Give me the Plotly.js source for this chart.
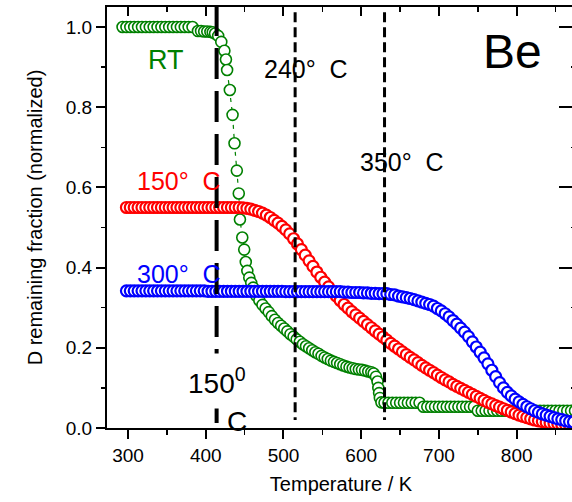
<!DOCTYPE html>
<html>
<head>
<meta charset="utf-8">
<script src="https://cdn.plot.ly/plotly-3.0.1.min.js"></script>
<style>
html, body { margin:0; padding:0; overflow:hidden; background:#fff; }
#chart { width:580px; height:502px; }
</style>
</head>
<body>
<div id="chart"></div>
<script>
// ---- Data ----
const temps = [298,303,308,313,318,323,328,333,338,343,348,353,358,363,368,373,378,383,388,393,
398,403,408,413,418,423,428,433,438,443,448,453,458,463,468,473,478,483,488,493,
498,503,508,513,518,523,528,533,538,543,548,553,558,563,568,573,578,583,588,593,
598,603,608,613,618,623,628,633,638,643,648,653,658,663,668,673,678,683,688,693,
698,703,708,713,718,723,728,733,738,743,748,753,758,763,768,773,778,783,788,793,
798,803,808,813,818,823,828,833,838,843,848,853,858,863,868,873];

const d150 = [0.550,0.550,0.550,0.550,0.550,0.550,0.550,0.550,0.550,0.550,
0.550,0.550,0.550,0.550,0.550,0.550,0.550,0.550,0.550,0.550,
0.550,0.550,0.550,0.550,0.550,0.550,0.550,0.550,0.550,
0.550,0.549,0.548,0.546,0.543,0.540,0.536,0.531,0.525,0.518,0.511,
0.503,0.494,0.484,0.472,0.459,0.445,0.431,0.417,0.403,0.389,
0.376,0.364,0.352,0.340,0.329,0.318,0.308,0.299,0.290,0.282,
0.274,0.266,0.258,0.250,0.242,0.234,0.227,0.219,0.211,0.204,
0.197,0.190,0.183,0.176,0.170,0.163,0.156,0.150,0.144,0.138,
0.132,0.126,0.120,0.115,0.109,0.104,0.099,0.094,0.089,0.084,
0.079,0.074,0.069,0.064,0.060,0.056,0.052,0.048,0.044,0.040,
0.036,0.032,0.029,0.026,0.023,0.020,0.018,0.016,0.014,0.012,
0.011,0.010,0.009,0.008,0.007,0.006];

const d300 = [0.342,0.342,0.342,0.342,0.342,0.342,0.342,0.342,0.342,0.342,
0.342,0.342,0.342,0.342,0.342,0.342,0.342,0.342,0.342,0.342,0.342,
0.341,0.341,0.341,0.341,0.341,0.341,0.341,0.341,0.341,0.341,
0.341,0.341,0.341,0.341,0.341,0.341,0.341,0.341,0.341,0.341,
0.340,0.340,0.340,0.340,0.340,0.340,0.340,0.340,0.340,0.340,
0.340,0.340,0.340,0.340,0.340,
0.339,0.339,0.338,0.338,0.338,0.337,
0.337,0.336,0.336,0.335,0.335,0.335,
0.333,0.332,0.329,0.327,0.325,0.323,0.320,0.317,0.314,0.311,
0.308,0.304,0.298,0.292,0.285,0.277,0.268,0.259,0.249,0.239,
0.228,0.215,0.202,0.189,0.175,0.160,0.144,0.128,0.113,0.100,
0.089,0.080,0.072,0.065,0.059,0.053,0.048,0.043,0.039,0.035,
0.032,0.029,0.026,0.023,0.021,0.018,0.016,0.015];

const tRT = [293,298,303,308,313,318,323,328,333,338,343,348,353,358,363,368,373,378,383,
390,394,398,402,406,409,
412,416,420,424,426,427.5,431,434.5,437,440,442.5,444,447,449.5,451.5,453.5,456,458.5,
461,465,469,473,477,481,485,489,493,497,501,505,509,513,517,521,525,529,533,537,
541,545,549,553,557,561,565,569,573,577,581,585,589,593,597,601,605,609,613,616,
619,621,622,623,624,626,
630,635,640,645,650,655,660,665,670,675,
680,685,690,695,700,705,710,715,720,725,730,735,740,745,
750,755,760,765,770,775,780,785,790,795,800,805,810,815,820,825,830,835,840,845,
850,855,860,865,870,875];

const dRT = [1.000,1.000,1.000,1.000,1.000,1.000,1.000,1.000,1.000,1.000,1.000,1.000,1.000,1.000,1.000,1.000,1.000,1.000,1.000,
0.990,0.990,0.989,0.989,0.988,0.987,
0.984,0.978,0.963,0.941,0.919,0.893,0.843,0.781,0.710,0.642,0.585,0.520,0.475,0.445,0.414,0.392,0.375,0.362,
0.350,0.330,0.318,0.307,0.298,0.289,0.279,0.270,0.262,0.255,0.248,0.241,0.234,0.228,0.221,0.215,0.209,0.204,0.199,0.194,
0.189,0.185,0.180,0.176,0.172,0.168,0.165,0.162,0.159,0.156,0.153,0.151,0.149,0.147,0.146,0.145,0.143,0.141,0.139,0.136,
0.128,0.116,0.100,0.087,0.075,0.064,
0.063,0.063,0.063,0.063,0.063,0.063,0.063,0.063,0.063,0.063,
0.053,0.053,0.053,0.053,0.053,0.053,0.053,0.053,0.053,0.053,0.053,0.053,0.053,0.053,
0.043,0.043,0.043,0.043,0.043,0.043,0.043,0.043,0.043,0.043,0.043,0.043,0.043,0.043,0.043,0.043,0.043,0.043,0.043,0.043,
0.043,0.043,0.043,0.043,0.043,0.043];

const markerTemps = [414, 515, 630];   // vertical reference lines (K)
const xTickVals = [300, 400, 500, 600, 700, 800];

// ---- Styling ----
const FONT = 'Liberation Sans, Arial, Helvetica, sans-serif';
const GREEN = '#008000', RED = '#ff0000', BLUE = '#0000ff';
const xRange = [273, 875], yRange = [0, 1.05];

function mk(color, w) {
  return { symbol: 'circle', size: 11, color: '#ffffff', line: { color: color, width: w } };
}

const traces = [
  { x: tRT, y: dRT, type: 'scatter', mode: 'lines+markers', marker: mk(GREEN, 1.6),
    line: { color: GREEN, width: 1.2, dash: '4px,5px' }, hoverinfo: 'skip', showlegend: false },
  { x: temps, y: d150, type: 'scatter', mode: 'markers', marker: mk(RED, 2.2),
    hoverinfo: 'skip', showlegend: false },
  { x: temps, y: d300, type: 'scatter', mode: 'markers', marker: mk(BLUE, 2.2),
    hoverinfo: 'skip', showlegend: false },
  { x: [], y: [], xaxis: 'x2', yaxis: 'y2', type: 'scatter', mode: 'markers',
    hoverinfo: 'skip', showlegend: false }
];

const shapes = [
  { type: 'line', xref: 'x', yref: 'y', x0: markerTemps[0], x1: markerTemps[0], y0: 1.055, y1: 0,
    line: { color: '#000', width: 4, dash: '31px,12px' } },
  { type: 'line', xref: 'x', yref: 'y', x0: markerTemps[1], x1: markerTemps[1], y0: 1.037, y1: 0.02,
    line: { color: '#000', width: 3, dash: '10px,5px' } },
  { type: 'line', xref: 'x', yref: 'y', x0: markerTemps[2], x1: markerTemps[2], y0: 1.037, y1: 0.02,
    line: { color: '#000', width: 3, dash: '10px,5px' } }
];

function ann(text, x, y, size, color, extra) {
  return Object.assign({ text: text, x: x, y: y, xref: 'x', yref: 'y', showarrow: false,
    xanchor: 'center', yanchor: 'middle', font: { family: FONT, size: size, color: color } }, extra || {});
}

const annotations = [
  ann('RT', 349, 0.918, 27, GREEN),
  ann('150°\u00a0\u00a0C', 365, 0.616, 25, RED),
  ann('300°\u00a0\u00a0C', 366, 0.385, 25, BLUE),
  ann('240°\u00a0\u00a0C', 529, 0.895, 25, '#000'),
  ann('350°\u00a0\u00a0C', 653, 0.663, 25, '#000'),
  ann('Be', 795, 0.938, 48, '#000'),
  ann('150<sup>0</sup>', 415, 0.118, 28, '#000', { bgcolor: '#ffffff', borderpad: 9 }),
  ann('C', 440, 0.017, 28, '#000')
];

const layout = {
  width: 580, height: 502,
  margin: { l: 107, r: 5, t: 7, b: 74, pad: 0 },
  paper_bgcolor: '#ffffff', plot_bgcolor: '#ffffff',
  font: { family: FONT, color: '#000' },
  showlegend: false,
  xaxis: {
    range: xRange, tickvals: xTickVals, ticktext: xTickVals.map(String),
    ticks: 'outside', ticklen: 9, tickwidth: 2, tickcolor: '#000',
    minor: { dtick: 50, tick0: 0, ticks: 'outside', ticklen: 4.5, tickwidth: 1.5, tickcolor: '#000' },
    showline: true, linecolor: '#000', linewidth: 2, showgrid: false, zeroline: false,
    tickfont: { family: FONT, size: 19, color: '#000' },
    title: { text: 'Temperature / K', font: { family: FONT, size: 20, color: '#000' }, standoff: 12 }
  },
  yaxis: {
    range: yRange, dtick: 0.2, tick0: 0, tickformat: '.1f',
    ticks: 'outside', ticklen: 9, tickwidth: 2, tickcolor: '#000',
    minor: { dtick: 0.1, tick0: 0, ticks: 'outside', ticklen: 4.5, tickwidth: 1.5, tickcolor: '#000' },
    showline: true, linecolor: '#000', linewidth: 2, showgrid: false, zeroline: false,
    tickfont: { family: FONT, size: 19, color: '#000' },
    title: { text: 'D remaining fraction (normalized)', font: { family: FONT, size: 20, color: '#000' }, standoff: 18 }
  },
  xaxis2: {
    overlaying: 'x', anchor: 'y', side: 'top', range: xRange, tickvals: xTickVals,
    ticks: 'inside', ticklen: 9, tickwidth: 2, tickcolor: '#000', showticklabels: false,
    minor: { dtick: 50, tick0: 0, ticks: 'inside', ticklen: 5, tickwidth: 1.5, tickcolor: '#000' },
    showline: true, linecolor: '#000', linewidth: 2, showgrid: false, zeroline: false
  },
  yaxis2: {
    overlaying: 'y', anchor: 'x', side: 'right', range: yRange, dtick: 0.2, tick0: 0,
    ticks: 'inside', ticklen: 16, tickwidth: 2, tickcolor: '#000', showticklabels: false,
    minor: { dtick: 0.1, tick0: 0, ticks: 'inside', ticklen: 4, tickwidth: 1.5, tickcolor: '#000' },
    showline: true, linecolor: '#000', linewidth: 2, showgrid: false, zeroline: false
  },
  shapes: shapes,
  annotations: annotations
};

Plotly.newPlot('chart', traces, layout, { staticPlot: true, displayModeBar: false });
</script>
</body>
</html>
